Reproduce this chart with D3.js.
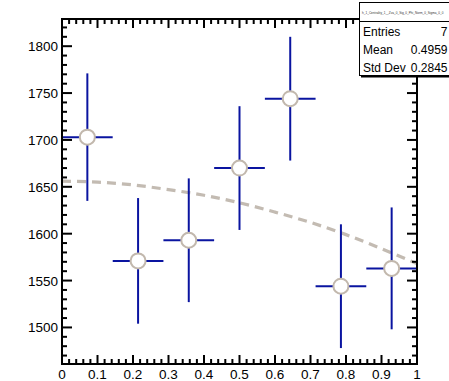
<!DOCTYPE html>
<html><head><meta charset="utf-8">
<script src="https://cdn.jsdelivr.net/npm/d3@7"></script>
<style>body{margin:0;background:#fff}svg{display:block}text{font-family:"Liberation Sans",Arial,sans-serif}</style>
</head><body><svg id="c" width="449" height="381"></svg>
<script>
// data
const binCenters = [0.0714, 0.2143, 0.3571, 0.5, 0.6429, 0.7857, 0.9286];
const binHalfWidth = [0.0714, 0.0714, 0.0714, 0.0714, 0.0714, 0.0714, 0.0714];
const values = [1703, 1571, 1593, 1670, 1744, 1544, 1563];
const errors = [68, 67, 66, 66, 66, 66, 65];
const fitX = [0, 0.1, 0.2, 0.3, 0.4, 0.5, 0.6, 0.7, 0.8, 0.9, 1.0];
const fitY = [1656, 1655, 1652, 1647, 1641, 1633, 1623, 1612, 1599, 1584, 1568];
const xTicks = [0, 0.1, 0.2, 0.3, 0.4, 0.5, 0.6, 0.7, 0.8, 0.9, 1];
const yTicks = [1500, 1550, 1600, 1650, 1700, 1750, 1800];
const statsTitle = "h_1_Centrality_1__Zva_0_Sig_0_Phi_Norm_0_Sigma_0_0";
const statsLabels = ["Entries", "Mean", "Std Dev"];
const statsValues = ["7", "0.4959", "0.2845"];

const svg = d3.select("#c");
const L = 62, R = 417, T = 19, B = 364;
const x = d3.scaleLinear().domain([0, 1]).range([L, R]);
const y = d3.scaleLinear().domain([1461, 1829]).range([B, T]);

const clip = svg.append("defs").append("clipPath").attr("id", "pc");
clip.append("rect").attr("x", L).attr("y", T).attr("width", R - L).attr("height", B - T);

// fit curve
const line = d3.line().x((d, i) => x(fitX[i])).y(d => y(d)).curve(d3.curveMonotoneX);
svg.append("path").attr("d", line(fitY)).attr("fill", "none")
  .attr("stroke", "#c3bbb2").attr("stroke-width", 3.2).attr("stroke-dasharray", "9,6")
  .attr("clip-path", "url(#pc)");

// error bars
const g = svg.append("g").attr("clip-path", "url(#pc)");
binCenters.forEach((c, i) => {
  g.append("line").attr("x1", x(c - binHalfWidth[i])).attr("x2", x(c + binHalfWidth[i]))
    .attr("y1", y(values[i])).attr("y2", y(values[i]))
    .attr("stroke", "#0a14a0").attr("stroke-width", 2);
  g.append("line").attr("x1", x(c)).attr("x2", x(c))
    .attr("y1", y(values[i] - errors[i])).attr("y2", y(values[i] + errors[i]))
    .attr("stroke", "#0a14a0").attr("stroke-width", 2);
});
binCenters.forEach((c, i) => {
  svg.append("circle").attr("cx", x(c)).attr("cy", y(values[i])).attr("r", 7.5)
    .attr("fill", "#fff").attr("stroke", "#c2b8ad").attr("stroke-width", 2);
});

// axes
const xMinor = d3.range(0, 1.0001, 0.02);
const yMinor = d3.range(1470, 1829, 10);
const ax = svg.append("g").attr("stroke", "#000").attr("stroke-width", 2);
xMinor.forEach(v => {
  const major = Math.abs(v * 10 - Math.round(v * 10)) < 1e-6;
  const len = major ? 9 : 5;
  ax.append("line").attr("x1", x(v)).attr("x2", x(v)).attr("y1", B).attr("y2", B - len);
  ax.append("line").attr("x1", x(v)).attr("x2", x(v)).attr("y1", T).attr("y2", T + len);
});
yMinor.forEach(v => {
  const major = v % 50 === 0;
  const len = major ? 10 : 5;
  ax.append("line").attr("x1", L).attr("x2", L + len).attr("y1", y(v)).attr("y2", y(v));
  ax.append("line").attr("x1", R).attr("x2", R - len).attr("y1", y(v)).attr("y2", y(v));
});
svg.append("rect").attr("x", L).attr("y", T).attr("width", R - L).attr("height", B - T)
  .attr("fill", "none").attr("stroke", "#000").attr("stroke-width", 2);

svg.append("g").selectAll("text").data(xTicks).join("text")
  .attr("x", d => x(d)).attr("y", 379).attr("text-anchor", "middle")
  .attr("font-size", 13.5).text(d => d3.format("")(d));
svg.append("g").selectAll("text").data(yTicks).join("text")
  .attr("x", 58).attr("y", d => y(d) + 5).attr("text-anchor", "end")
  .attr("font-size", 13.5).text(d => d);

// stats box
const sb = svg.append("g");
sb.append("rect").attr("x", 361).attr("y", 4).attr("width", 92).attr("height", 73.5).attr("fill", "#000");
sb.append("rect").attr("x", 359.5).attr("y", 2.5).attr("width", 92).attr("height", 73)
  .attr("fill", "#fff").attr("stroke", "#000").attr("stroke-width", 1);
sb.append("line").attr("x1", 359.5).attr("x2", 449).attr("y1", 21.5).attr("y2", 21.5)
  .attr("stroke", "#000").attr("stroke-width", 1);
sb.append("text").attr("x", 362).attr("y", 13.5).attr("font-size", 3.1).attr("fill", "#333")
  .text(statsTitle);
statsLabels.forEach((s, i) => {
  const yy = 35.5 + i * 18;
  sb.append("text").attr("x", 363).attr("y", yy).attr("font-size", 12).text(s);
  sb.append("text").attr("x", 447.5).attr("y", yy).attr("font-size", 12).attr("text-anchor", "end").text(statsValues[i]);
});
</script></body></html>
